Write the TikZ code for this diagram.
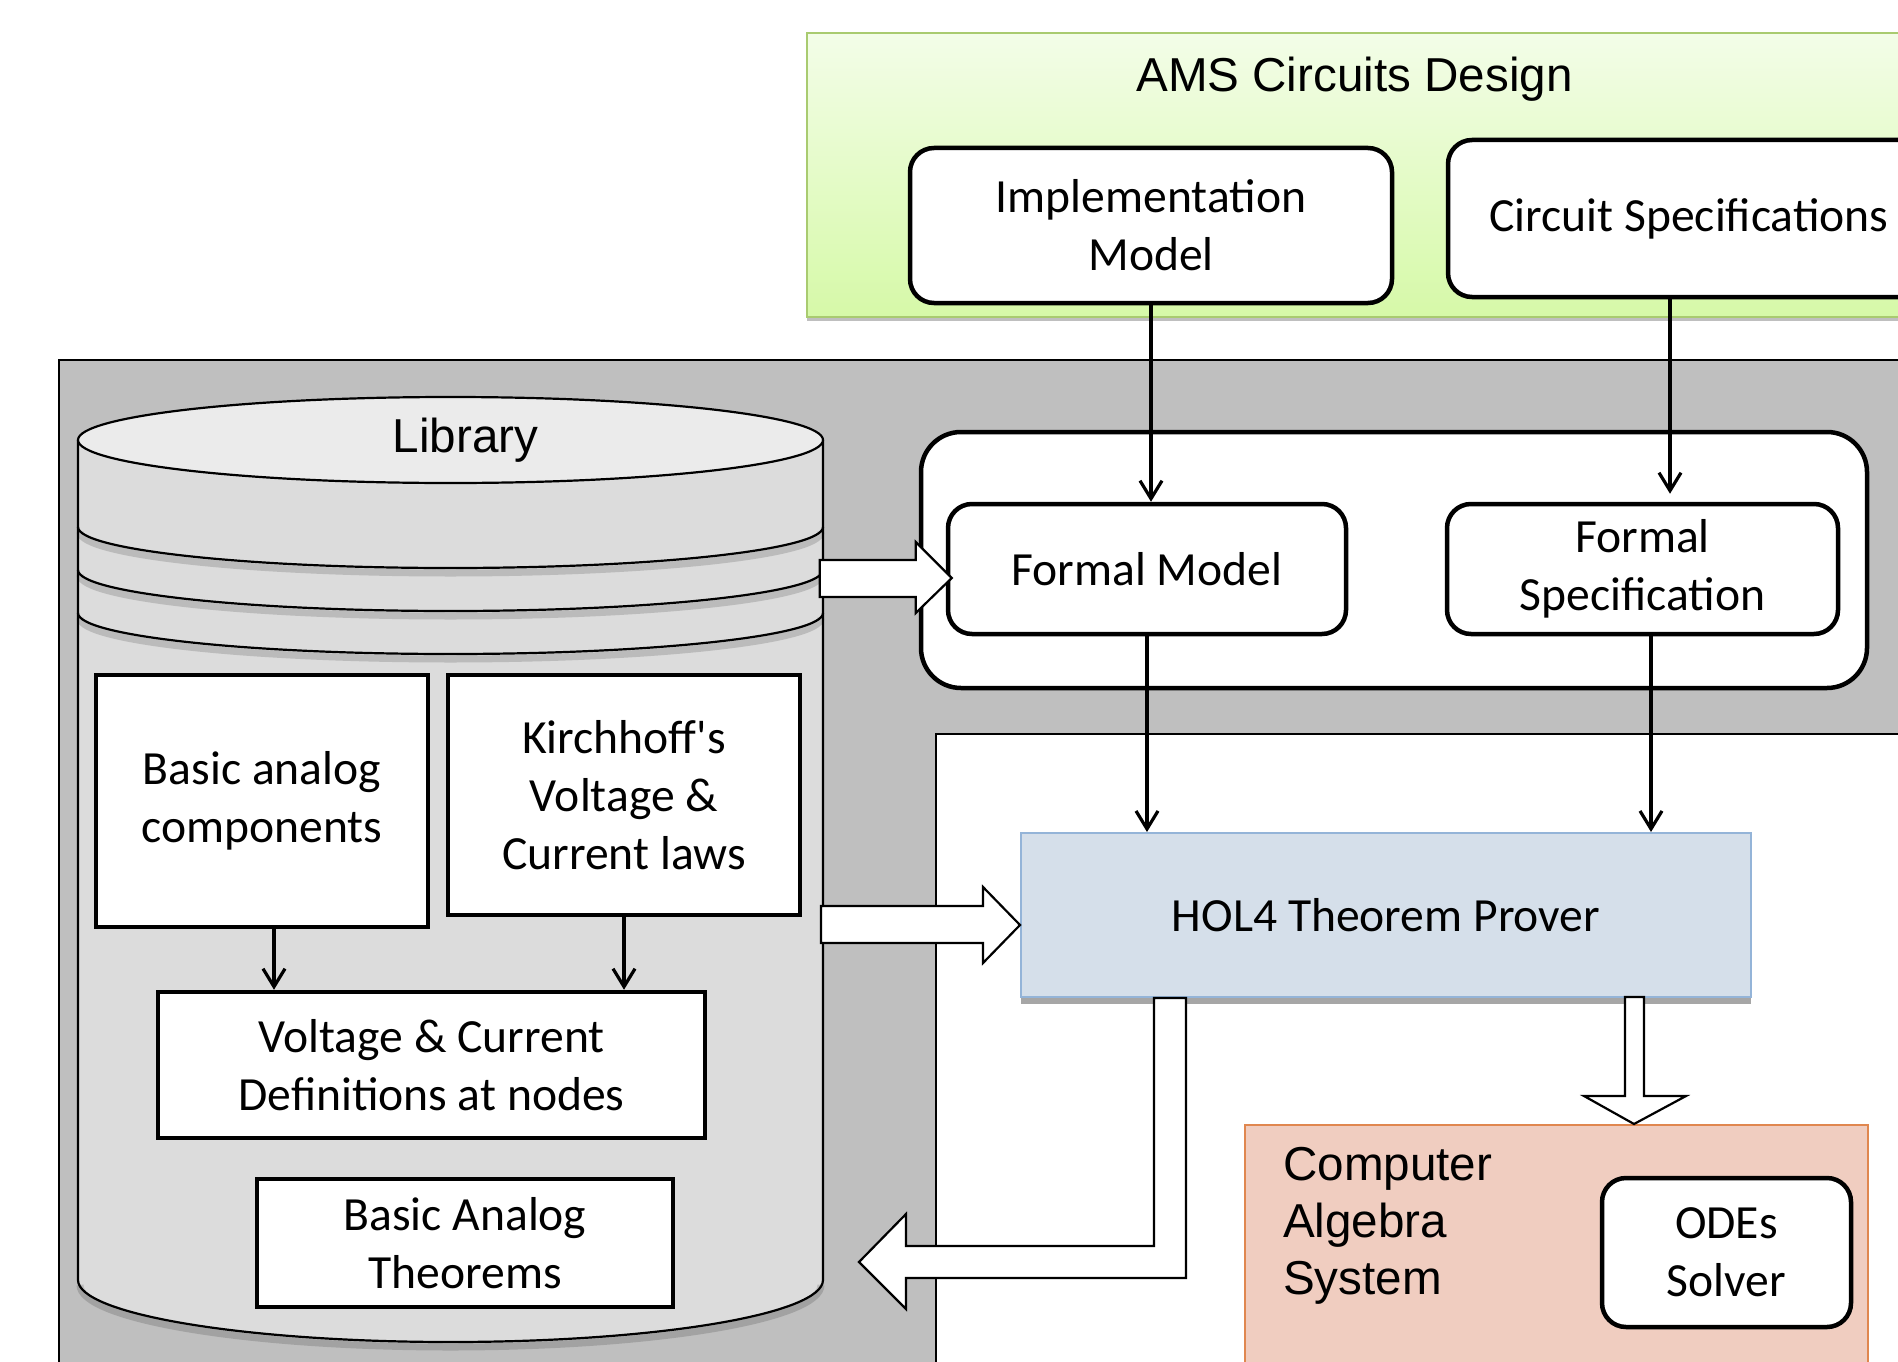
\documentclass[tikz,border=0pt]{standalone}
\usepackage{fontspec}
\setmainfont{Carlito}
\newfontfamily\rawcarlito{Carlito}[Ligatures=TeXOff]
\newfontfamily\arialfont{Liberation Sans}
\usetikzlibrary{arrows.meta,calc,shadows}

\definecolor{bggray}{HTML}{BFBFBF}
\definecolor{libbody}{HTML}{DCDCDC}
\definecolor{libtop}{HTML}{EBEBEB}
\definecolor{holfill}{HTML}{D5DFEA}
\definecolor{holline}{HTML}{94B4D8}
\definecolor{casfill}{HTML}{F0CDC0}
\definecolor{casline}{HTML}{E0874F}
\definecolor{amstop}{HTML}{F3FDE8}
\definecolor{amsbot}{HTML}{D6F9A8}
\definecolor{amsline}{HTML}{A9CB70}

\newcommand\boxfont{\fontsize{47.6}{58}\selectfont}
\newcommand\headfont{\arialfont\fontsize{47.6}{57}\selectfont}

\tikzset{
  lbl/.style={font=\boxfont, align=center, inner sep=0pt},
  rbox/.style={lbl, draw, line width=4.5pt, rounded corners=24pt, fill=white},
  sbox/.style={lbl, draw, line width=4.5pt, fill=white},
  thinarrow/.style={line width=3.2pt, -{Straight Barb[length=18pt,width=22pt]}},
  blockarrow/.style={draw, fill=white, line width=2.2pt, line join=miter},
  stripe/.style={line width=2.2pt},
  stripeshade/.style={line width=7pt, black, opacity=.15},
}

\begin{document}
\begin{tikzpicture}[x=1pt,y=-1pt]
\useasboundingbox (0,0) rectangle (1898,1362);
\clip (0,0) rectangle (1898,1362);

% design stage panel
\node[draw=amsline, line width=2pt, top color=amstop, bottom color=amsbot,
      minimum width=1114pt, minimum height=284pt, anchor=north west, inner sep=0pt,
      drop shadow={shadow xshift=0pt, shadow yshift=-4pt, opacity=.25, fill=black}]
      (ams) at (806,32) {};
\node[font=\headfont, anchor=base, inner sep=0pt] (amstitle) at (1354.5,92) {AMS Circuits Design};
\node[rbox, minimum width=482pt, minimum height=155pt] (impl) at (1151,225.5) {Implementation\\Model};
\node[rbox, minimum width=482pt, minimum height=157pt] (cspec) at (1689,218.5) {Circuit Specifications};

% verification framework background
\draw[line width=2pt, fill=bggray] (59,360) rectangle (1920,1380);
\draw[line width=2pt, fill=white] (936,734) rectangle (1920,1380);

% library cylinder
\fill[libbody] (78,440) -- (78,1280) arc[start angle=180, end angle=0, x radius=372.5, y radius=62] -- (823,440) -- cycle;
\draw[stripeshade] (80,1285) arc[start angle=180, end angle=0, x radius=370.5, y radius=62];
\draw[line width=2.2pt] (78,440) -- (78,1280) arc[start angle=180, end angle=0, x radius=372.5, y radius=62] -- (823,440);
\foreach \yc in {527,570,613} {
  \draw[stripeshade] (80,\yc+5) arc[start angle=180, end angle=0, x radius=370.5, y radius=41];
  \draw[stripe] (78,\yc) arc[start angle=180, end angle=0, x radius=372.5, y radius=41];
}
\draw[line width=2.2pt, fill=libtop] (450.5,440) ellipse [x radius=372.5, y radius=43];
\node[font=\headfont, anchor=base, inner sep=0pt] (libtitle) at (465.5,452) {Library};

\node[sbox, minimum width=332pt, minimum height=252pt] (bac) at (262,801) {Basic analog\\components};
\node[sbox, minimum width=352pt, minimum height=240pt] (kvc) at (624,795) {Kirchhoff{\rawcarlito '}s\\Voltage \&\\Current laws};
\node[sbox, minimum width=547pt, minimum height=146pt] (vcd) at (431.5,1065) {Voltage \& Current\\Definitions at nodes};
\node[sbox, minimum width=416pt, minimum height=128pt] (bat) at (465,1243) {Basic Analog\\Theorems};

\draw[thinarrow] ([xshift=12pt]bac.south) -- ([xshift=12pt]bac.south |- vcd.north);
\draw[thinarrow] (kvc.south) -- (kvc.south |- vcd.north);

% formalization container
\node[draw, line width=4.5pt, rounded corners=40pt, fill=white, minimum width=946pt, minimum height=256pt, inner sep=0pt] (formal) at (1394,560) {};
\node[rbox, minimum width=398pt, minimum height=130pt] (fmodel) at (1147,569) {Formal Model};
\node[rbox, minimum width=391pt, minimum height=130pt] (fspec) at (1642.5,569) {Formal\\Specification};

% theorem prover and algebra system
\node[lbl, draw=holline, line width=2pt, fill=holfill, minimum width=730pt, minimum height=164pt,
      drop shadow={shadow xshift=0pt, shadow yshift=-7pt, opacity=.35, fill=black}]
      (hol) at (1386,915) {HOL4 Theorem Prover};
\node[draw=casline, line width=2pt, fill=casfill, minimum width=623pt, minimum height=260pt, anchor=north west, inner sep=0pt] (cas) at (1244,1124) {};
\node[font=\headfont, align=left, anchor=west, inner sep=0pt] (castext) at (1283,1226) {Computer\\Algebra\\System};
\node[rbox, minimum width=249pt, minimum height=149pt] (odes) at (1726.5,1252.5) {ODEs\\Solver};

% thin connectors
\draw[thinarrow] (impl.south) -- (impl.south |- fmodel.north);
\draw[thinarrow] ([xshift=-19pt]cspec.south) -- ($([xshift=-19pt]cspec.south |- fspec.north)+(0,-8)$);
\draw[thinarrow] (fmodel.south) -- (fmodel.south |- hol.north);
\draw[thinarrow] ([xshift=8.5pt]fspec.south) -- ([xshift=8.5pt]fspec.south |- hol.north);

% block arrows
\draw[blockarrow] ($(fmodel.west)+(6,9)$) -- ++(-36,-36) -- ++(0,18) -- ++(-96,0) -- ++(0,37) -- ++(96,0) -- ++(0,16) -- cycle;
\draw[blockarrow] ($(hol.west)+(0,10)$) -- ++(-37,-38) -- ++(0,19) -- ++(-162,0) -- ++(0,37) -- ++(162,0) -- ++(0,20) -- cycle;
\draw[blockarrow] ($(hol.south west)+(134,0)$) -- ++(0,248) -- ++(-248,0) -- ++(0,-32) -- ++(-47,48) -- ++(47,47) -- ++(0,-31) -- ++(280,0) -- ++(0,-280) -- cycle;
\draw[blockarrow] ($(cas.north west)+(390,0)$) -- ++(52,-28) -- ++(-42,0) -- ++(0,-99) -- ++(-19,0) -- ++(0,99) -- ++(-41,0) -- cycle;
\end{tikzpicture}
\end{document}
